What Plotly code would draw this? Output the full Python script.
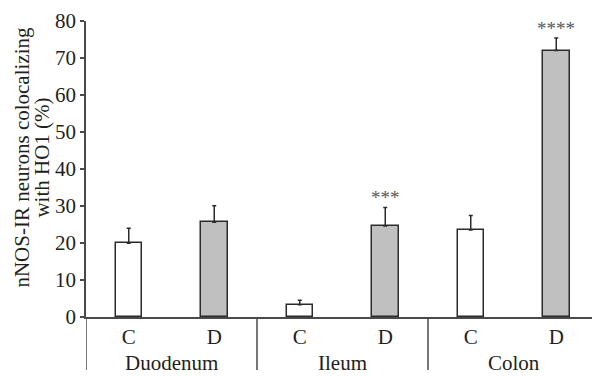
import plotly.graph_objects as go

regions = ["Duodenum", "Ileum", "Colon"]
conditions = ["C", "D"]
means = [19.9, 25.6, 3.3, 24.6, 23.5, 72.0]
errors = [4.1, 4.5, 1.2, 5.0, 3.9, 3.4]
stars = ["", "", "", "***", "", "****"]
y_ticks = [0, 10, 20, 30, 40, 50, 60, 70, 80]
y_title = ["nNOS-IR neurons colocalizing", "with HO1 (%)"]

FONT = "Liberation Serif"
TXT = "#231f20"
LINE = "#4a4a4a"
FS = 21

n_cond = len(conditions)
xpos = list(range(len(regions) * n_cond))
tick_text = [c for _ in regions for c in conditions]
fills = ["#ffffff" if tick_text[i] == "C" else "#c0c0c0" for i in xpos]

fig = go.Figure()
fig.add_trace(go.Bar(
    x=xpos, y=means, width=0.31,
    marker=dict(color=fills, line=dict(color="#2b2b2b", width=1.5)),
    error_y=dict(type="data", symmetric=False, array=errors,
                 arrayminus=[0] * len(means), color="#2b2b2b",
                 thickness=1.5, width=2),
    showlegend=False,
))

annotations = []
for i, s in enumerate(stars):
    if s:
        annotations.append(dict(x=xpos[i], y=means[i] + errors[i], xref="x", yref="y",
                                text=s, showarrow=False, yanchor="middle", yshift=10,
                                font=dict(family=FONT, size=19, color="#555555")))
for g, name in enumerate(regions):
    center = (xpos[g * n_cond] + xpos[g * n_cond + n_cond - 1]) / 2
    annotations.append(dict(x=center, y=0, xref="x", yref="paper", text=name,
                            showarrow=False, yanchor="middle", yshift=-46,
                            font=dict(family=FONT, size=FS, color=TXT)))
for k, line in enumerate(y_title):
    annotations.append(dict(x=0, y=0.5385, xref="paper", yref="paper",
                            text=line, textangle=-90, showarrow=False,
                            xanchor="center", yanchor="middle", xshift=-64 + 20 * k,
                            font=dict(family=FONT, size=FS, color=TXT)))

shapes = []
bottom = -0.179
shapes.append(dict(type="line", xref="x", yref="paper", x0=xpos[0] - 0.5, x1=xpos[0] - 0.5,
                   y0=0, y1=bottom, line=dict(color=LINE, width=1.5)))
for g in range(1, len(regions)):
    xs = xpos[g * n_cond] - 0.5
    shapes.append(dict(type="line", xref="x", yref="paper", x0=xs, x1=xs,
                       y0=0, y1=bottom, line=dict(color=LINE, width=1.5)))

# page body has an 8px default margin, so the figure is 8px smaller
fig.update_layout(
    width=592, height=368,
    margin=dict(l=78, r=1, t=5, b=59),
    paper_bgcolor="white", plot_bgcolor="white",
    font=dict(family=FONT, size=FS, color=TXT),
    annotations=annotations, shapes=shapes,
    bargap=0,
)
fig.update_xaxes(range=[-0.5, len(xpos) - 0.5], tickvals=xpos, ticktext=tick_text,
                 showline=True, linecolor=LINE, linewidth=1.5, ticks="",
                 showgrid=False, zeroline=False, ticklabelstandoff=0,
                 tickfont=dict(family=FONT, size=FS, color=TXT))
fig.update_yaxes(range=[0, 80], tickvals=y_ticks, showline=True, linecolor=LINE,
                 linewidth=1.5, ticks="outside", ticklen=4, tickwidth=1.5,
                 tickcolor=LINE, showgrid=False, zeroline=False,
                 ticklabeloverflow="allow",
                 tickfont=dict(family=FONT, size=FS, color=TXT))

fig.write_html("out.html")
